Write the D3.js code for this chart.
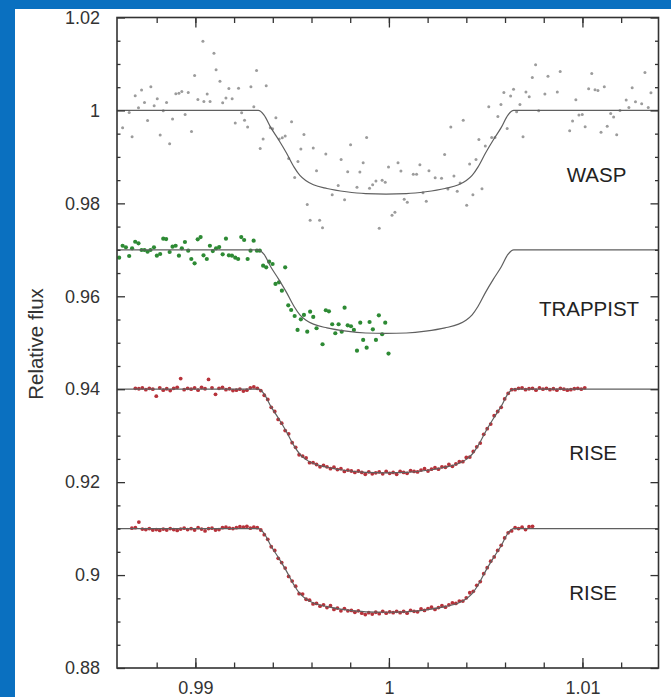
<!DOCTYPE html>
<html>
<head>
<meta charset="utf-8">
<script src="https://cdn.jsdelivr.net/npm/d3@7"></script>
<style>
  html, body { margin: 0; padding: 0; background: #0a70c0; }
  svg { display: block; }
</style>
</head>
<body>
<svg id="chart" width="671" height="697"></svg>
<script>
// ---- Data -------------------------------------------------------------
// Transit model: depth below the out-of-transit level, versus time
const modelTime  = [0.98595, 0.99325, 0.99355, 0.99390, 0.99430, 0.99470, 0.99510, 0.99540, 0.99570, 0.99610, 0.99680, 0.99780, 0.99880, 0.99985,
                    1.00090, 1.00190, 1.00290, 1.00360, 1.00400, 1.00430, 1.00460, 1.00500, 1.00540, 1.00580, 1.00615, 1.00645, 1.01393];
const modelDepth = [0, 0, 0.0010, 0.0037, 0.0063, 0.0091, 0.0122, 0.0140, 0.0151, 0.0160, 0.0168, 0.0175, 0.0179, 0.0180,
                    0.0179, 0.0175, 0.0168, 0.0160, 0.0151, 0.0140, 0.0122, 0.0091, 0.0063, 0.0037, 0.0010, 0, 0];

// Out-of-transit level of each light curve and its instrument name
const instruments = ["WASP", "TRAPPIST", "RISE", "RISE"];
const baselines   = [1.00, 0.97, 0.94, 0.91];
// Where each instrument name is centred (time, flux of the text baseline)
const labelTime   = [1.01073, 1.01034, 1.01055, 1.01055];
const labelFlux   = [0.98465, 0.95578, 0.92485, 0.89473];

// WASP photometry [time, relative flux]
const waspPoints = [
  [0.98624,0.99626],[0.98658,0.99957],[0.98673,0.99432],[0.98689,1.00314],[0.98706,1.00056],[0.98722,1.00437],[0.98737,1.00172],[0.98753,0.99785],
  [0.98770,1.00508],[0.98787,1.00099],[0.98803,1.00249],[0.98818,0.99469],[0.98834,0.99991],[0.98851,1.00172],[0.98867,0.99282],[0.98882,0.99813],
  [0.98899,1.00357],[0.98915,1.00372],[0.98930,1.00409],[0.98947,0.99914],[0.98963,1.00387],[0.98980,0.99548],[0.98996,1.00753],[0.99013,1.00237],
  [0.99039,1.01490],[0.99044,1.00194],[0.99061,1.00351],[0.99076,1.00194],[0.99096,1.01232],[0.99107,1.00873],[0.99127,1.00630],[0.99141,1.00163],
  [0.99158,1.00265],[0.99173,1.00473],[0.99190,1.00249],[0.99206,0.99727],[0.99223,1.00480],[0.99239,0.99948],[0.99254,0.99791],[0.99270,0.99641],
  [0.99287,1.00508],[0.99302,1.00077],[0.99316,1.00860],[0.99335,0.99183],[0.99350,0.99383],[0.99366,1.00529],[0.99387,0.99626],[0.99399,0.99604],
  [0.99416,0.99841],[0.99433,0.99383],[0.99449,0.99411],[0.99464,0.99447],[0.99482,0.98968],[0.99497,0.99755],[0.99513,0.98559],[0.99530,0.98903],
  [0.99545,0.99168],[0.99561,0.99484],[0.99578,0.97978],[0.99593,0.97634],[0.99609,0.99189],[0.99626,0.98701],[0.99642,0.97634],[0.99657,0.97475],
  [0.99674,0.99060],[0.99707,0.98185],[0.99738,0.98387],[0.99753,0.98946],[0.99771,0.98077],[0.99787,0.98680],[0.99802,0.99260],[0.99835,0.98344],
  [0.99850,0.98673],[0.99867,0.98873],[0.99885,0.99419],[0.99900,0.98323],[0.99916,0.98400],[0.99933,0.98480],[0.99950,0.97462],[0.99965,0.98495],
  [0.99981,0.98452],[0.99998,0.98781],[1.00016,0.97742],[1.00031,0.97806],[1.00047,0.98873],[1.00062,0.98695],[1.00079,0.98086],[1.00095,0.98022],
  [1.00126,0.98624],[1.00143,0.98624],[1.00160,0.98830],[1.00176,0.98228],[1.00193,0.98043],[1.00207,0.98701],[1.00239,0.98551],[1.00272,0.98538],
  [1.00288,0.99054],[1.00305,0.98308],[1.00320,0.99641],[1.00336,0.98587],[1.00353,0.98258],[1.00368,0.98437],[1.00384,0.99791],[1.00402,0.97957],
  [1.00417,0.98845],[1.00434,0.98185],[1.00450,0.98946],[1.00465,0.99376],[1.00481,0.98314],[1.00498,0.99232],[1.00516,1.00077],[1.00531,0.99419],
  [1.00548,0.99419],[1.00563,0.99871],[1.00579,1.00129],[1.00594,1.00387],[1.00611,0.99613],[1.00629,1.00308],[1.00644,1.00458],[1.00660,0.99970],
  [1.00677,1.00129],[1.00693,0.99432],[1.00708,1.00394],[1.00725,1.00292],[1.00741,1.00710],[1.00758,1.00981],[1.00774,0.99991],[1.00806,1.00351],
  [1.00822,1.00738],[1.00870,1.00394],[1.00885,1.00839],[1.00934,0.99561],[1.00949,0.99770],[1.00966,1.00228],[1.00982,0.99899],[1.00999,0.99914],
  [1.01014,0.99647],[1.01032,1.00465],[1.01048,1.00796],[1.01065,1.00443],[1.01080,1.00430],[1.01096,0.99533],[1.01113,1.00508],[1.01128,0.99662],
  [1.01146,0.99935],[1.01161,0.99856],[1.01177,0.99475],[1.01194,1.00000],[1.01226,1.00222],[1.01240,1.00065],[1.01257,1.00486],[1.01274,1.00185],
  [1.01306,1.00142],[1.01323,1.00817],[1.01340,1.00065],[1.01354,1.00378]
];

// TRAPPIST photometry [time, relative flux]
const trappistPoints = [
  [0.98606,0.96830],[0.98624,0.97088],[0.98641,0.97054],[0.98658,0.96867],[0.98673,0.97032],[0.98689,0.97174],[0.98706,0.97140],[0.98722,0.96996],
  [0.98737,0.96996],[0.98753,0.96959],[0.98768,0.96996],[0.98786,0.97054],[0.98801,0.96873],[0.98818,0.96910],[0.98834,0.97239],[0.98849,0.97232],
  [0.98867,0.96953],[0.98882,0.97067],[0.98898,0.97088],[0.98915,0.96873],[0.98930,0.97032],[0.98946,0.97168],[0.98963,0.96981],[0.98979,0.96802],
  [0.98996,0.96710],[0.99012,0.97226],[0.99027,0.97275],[0.99042,0.96882],[0.99059,0.96802],[0.99075,0.97088],[0.99090,0.96974],[0.99107,0.97032],
  [0.99123,0.97060],[0.99141,0.96903],[0.99158,0.97239],[0.99173,0.96882],[0.99189,0.96873],[0.99206,0.96830],[0.99221,0.96802],[0.99237,0.97275],
  [0.99252,0.97211],[0.99270,0.96802],[0.99285,0.96981],[0.99301,0.97196],[0.99318,0.96981],[0.99333,0.96981],[0.99350,0.96658],[0.99366,0.96624],
  [0.99381,0.96744],[0.99399,0.96695],[0.99414,0.96265],[0.99432,0.96301],[0.99447,0.96120],[0.99464,0.96624],[0.99480,0.95806],[0.99495,0.95705],
  [0.99513,0.95576],[0.99528,0.95275],[0.99545,0.95505],[0.99561,0.95598],[0.99578,0.95239],[0.99593,0.95669],[0.99609,0.95555],[0.99626,0.95312],
  [0.99657,0.94968],[0.99674,0.95699],[0.99690,0.95677],[0.99707,0.95398],[0.99723,0.95204],[0.99740,0.95398],[0.99756,0.95239],[0.99771,0.95755],
  [0.99787,0.95376],[0.99804,0.95355],[0.99819,0.95275],[0.99835,0.94830],[0.99852,0.95432],[0.99867,0.95060],[0.99885,0.94895],[0.99900,0.95447],
  [0.99917,0.95290],[0.99933,0.95060],[0.99948,0.95591],[0.99965,0.95183],[0.99981,0.95432],[0.99998,0.94766]
];

// First RISE light curve [time, relative flux]
const rise1Points = [
  [0.98690,0.94020],[0.98708,0.94010],[0.98726,0.94030],[0.98744,0.93990],[0.98762,0.94020],[0.98780,0.94000],[0.98798,0.93850],[0.98816,0.94030],
  [0.98834,0.93980],[0.98852,0.94010],[0.98870,0.93970],[0.98888,0.94020],[0.98906,0.94040],[0.98924,0.94230],[0.98942,0.93990],[0.98960,0.94020],
  [0.98978,0.94000],[0.98996,0.94030],[0.99014,0.93980],[0.99032,0.94040],[0.99050,0.94010],[0.99068,0.94210],[0.99086,0.94030],[0.99104,0.93890],
  [0.99122,0.94020],[0.99140,0.94040],[0.99158,0.93990],[0.99176,0.94010],[0.99194,0.93970],[0.99212,0.93980],[0.99230,0.94000],[0.99248,0.93960],
  [0.99266,0.93980],[0.99284,0.94030],[0.99302,0.94050],[0.99320,0.94020],[0.99338,0.93970],[0.99356,0.93870],[0.99374,0.93780],[0.99392,0.93610],
  [0.99410,0.93520],[0.99428,0.93350],[0.99446,0.93270],[0.99464,0.93110],[0.99482,0.93040],[0.99500,0.92850],[0.99518,0.92750],[0.99536,0.92590],
  [0.99554,0.92560],[0.99572,0.92520],[0.99590,0.92420],[0.99608,0.92420],[0.99626,0.92380],[0.99644,0.92330],[0.99662,0.92360],[0.99680,0.92330],
  [0.99698,0.92290],[0.99716,0.92320],[0.99734,0.92270],[0.99752,0.92290],[0.99770,0.92230],[0.99788,0.92260],[0.99806,0.92240],[0.99824,0.92210],
  [0.99842,0.92240],[0.99860,0.92210],[0.99878,0.92170],[0.99896,0.92220],[0.99914,0.92180],[0.99932,0.92200],[0.99950,0.92220],[0.99968,0.92180],
  [0.99986,0.92230],[1.00004,0.92190],[1.00022,0.92210],[1.00040,0.92170],[1.00058,0.92230],[1.00076,0.92210],[1.00094,0.92190],[1.00112,0.92250],
  [1.00130,0.92230],[1.00148,0.92220],[1.00166,0.92260],[1.00184,0.92290],[1.00202,0.92240],[1.00220,0.92280],[1.00238,0.92310],[1.00256,0.92280],
  [1.00274,0.92330],[1.00292,0.92320],[1.00310,0.92380],[1.00328,0.92340],[1.00346,0.92390],[1.00364,0.92440],[1.00382,0.92440],[1.00400,0.92530],
  [1.00418,0.92540],[1.00436,0.92660],[1.00454,0.92760],[1.00472,0.92840],[1.00490,0.93030],[1.00508,0.93150],[1.00526,0.93250],[1.00544,0.93430],
  [1.00562,0.93520],[1.00580,0.93610],[1.00598,0.93790],[1.00616,0.93910],[1.00634,0.93990],[1.00652,0.93990],[1.00670,0.94020],[1.00688,0.94030],
  [1.00706,0.93990],[1.00724,0.94010],[1.00742,0.94020],[1.00760,0.93980],[1.00778,0.94030],[1.00796,0.94000],[1.00814,0.94020],[1.00832,0.93990],
  [1.00850,0.94010],[1.00868,0.93980],[1.00886,0.94020],[1.00904,0.94000],[1.00922,0.93980],[1.00940,0.93990],[1.00958,0.94010],[1.00976,0.94020],
  [1.00994,0.94000],[1.01012,0.94030]
];

// Second RISE light curve [time, relative flux]
const rise2Points = [
  [0.98672,0.91010],[0.98690,0.91020],[0.98708,0.91140],[0.98726,0.90990],[0.98744,0.90980],[0.98762,0.91000],[0.98780,0.90970],[0.98798,0.90980],
  [0.98816,0.90960],[0.98834,0.90990],[0.98852,0.90970],[0.98870,0.91000],[0.98888,0.90980],[0.98906,0.90960],[0.98924,0.90990],[0.98942,0.91010],
  [0.98960,0.90980],[0.98978,0.91000],[0.98996,0.90970],[0.99014,0.91020],[0.99032,0.90990],[0.99050,0.90950],[0.99068,0.91000],[0.99086,0.91010],
  [0.99104,0.90970],[0.99122,0.90980],[0.99140,0.91020],[0.99158,0.91030],[0.99176,0.91010],[0.99194,0.91000],[0.99212,0.91020],[0.99230,0.91040],
  [0.99248,0.91030],[0.99266,0.91050],[0.99284,0.91010],[0.99302,0.91030],[0.99320,0.91020],[0.99338,0.90970],[0.99356,0.90870],[0.99374,0.90770],
  [0.99392,0.90610],[0.99410,0.90530],[0.99428,0.90360],[0.99446,0.90270],[0.99464,0.90150],[0.99482,0.89970],[0.99500,0.89870],[0.99518,0.89760],
  [0.99536,0.89600],[0.99554,0.89590],[0.99572,0.89480],[0.99590,0.89460],[0.99608,0.89380],[0.99626,0.89390],[0.99644,0.89330],[0.99662,0.89360],
  [0.99680,0.89300],[0.99698,0.89340],[0.99716,0.89260],[0.99734,0.89290],[0.99752,0.89230],[0.99770,0.89280],[0.99788,0.89230],[0.99806,0.89240],
  [0.99824,0.89200],[0.99842,0.89230],[0.99860,0.89180],[0.99878,0.89150],[0.99896,0.89190],[0.99914,0.89160],[0.99932,0.89200],[0.99950,0.89170],
  [0.99968,0.89220],[0.99986,0.89180],[1.00004,0.89210],[1.00022,0.89190],[1.00040,0.89220],[1.00058,0.89190],[1.00076,0.89220],[1.00094,0.89180],
  [1.00112,0.89240],[1.00130,0.89220],[1.00148,0.89210],[1.00166,0.89270],[1.00184,0.89240],[1.00202,0.89280],[1.00220,0.89310],[1.00238,0.89260],
  [1.00256,0.89300],[1.00274,0.89340],[1.00292,0.89310],[1.00310,0.89360],[1.00328,0.89400],[1.00346,0.89390],[1.00364,0.89440],[1.00382,0.89440],
  [1.00400,0.89510],[1.00418,0.89620],[1.00436,0.89650],[1.00454,0.89780],[1.00472,0.89860],[1.00490,0.90030],[1.00508,0.90160],[1.00526,0.90300],
  [1.00544,0.90390],[1.00562,0.90530],[1.00580,0.90640],[1.00598,0.90800],[1.00616,0.90910],[1.00634,0.90950],[1.00652,0.91020],[1.00670,0.91000],
  [1.00688,0.91030],[1.00706,0.90980],[1.00724,0.91040],[1.00742,0.91050]
];

// Axis ticks and their labels
const xMajorTicks  = [0.99, 1.00, 1.01];
const xTickLabels  = ["0.99", "1", "1.01"];
const xMinorTicks  = [0.988, 0.990, 0.992, 0.994, 0.996, 0.998, 1.000, 1.002, 1.004, 1.006, 1.008, 1.010, 1.012];
const yMajorTicks  = [0.88, 0.90, 0.92, 0.94, 0.96, 0.98, 1.00, 1.02];
const yTickLabels  = ["0.88", "0.9", "0.92", "0.94", "0.96", "0.98", "1", "1.02"];
const yMinorTicks  = [0.885, 0.89, 0.895, 0.905, 0.91, 0.915, 0.925, 0.93, 0.935, 0.945, 0.95, 0.955,
                      0.965, 0.97, 0.975, 0.985, 0.99, 0.995, 1.005, 1.01, 1.015];
const yAxisTitle   = "Relative flux";

// ---- Drawing ----------------------------------------------------------
const FONT = "'Liberation Sans', Arial, Helvetica, sans-serif";
const svg = d3.select("#chart");

// white sheet on the blue page
svg.append("rect").attr("x", 15).attr("y", 9).attr("width", 671 - 15).attr("height", 697 - 9).attr("fill", "#ffffff");

const plot = { left: 117, right: 658.5, top: 17.5, bottom: 668 };
const x = d3.scaleLinear().domain([0.98595, 1.01393]).range([plot.left, plot.right]);
const y = d3.scaleLinear().domain([0.88, 1.02]).range([plot.bottom, plot.top]);

const clipId = "plotclip";
svg.append("clipPath").attr("id", clipId).append("rect")
  .attr("x", plot.left).attr("y", plot.top)
  .attr("width", plot.right - plot.left).attr("height", plot.bottom - plot.top);

const layer = svg.append("g").attr("clip-path", `url(#${clipId})`);

// scatter series
const series = [
  { pts: waspPoints,     fill: "#9c9c9c", r: 1.5 },
  { pts: trappistPoints, fill: "#2d8a34", r: 2.1 },
  { pts: rise1Points,    fill: "#b7323a", r: 1.9 },
  { pts: rise2Points,    fill: "#b7323a", r: 1.9 }
];
series.forEach(s => {
  layer.append("g").selectAll("circle").data(s.pts).join("circle")
    .attr("cx", d => x(d[0])).attr("cy", d => y(d[1]))
    .attr("r", s.r).attr("fill", s.fill);
});

// transit model, shifted to each instrument's level
const modelLine = d3.line()
  .x(d => x(d.t)).y(d => y(d.f))
  .curve(d3.curveMonotoneX);
baselines.forEach(b => {
  const curve = modelTime.map((t, i) => ({ t, f: b - modelDepth[i] }));
  layer.append("path").attr("d", modelLine(curve))
    .attr("fill", "none").attr("stroke", "#5f5f5f").attr("stroke-width", 1.2);
});

// instrument names
instruments.forEach((name, i) => {
  svg.append("text")
    .attr("x", x(labelTime[i])).attr("y", y(labelFlux[i]))
    .attr("text-anchor", "middle")
    .attr("font-family", FONT).attr("font-size", 20.5).attr("fill", "#222")
    .text(name);
});

// axes: inward ticks on all four sides
const axisColor = "#333";
function tickRow(axisFn, values, len, transform) {
  const g = svg.append("g").attr("transform", transform)
    .call(axisFn.tickValues(values).tickSizeInner(-len).tickSizeOuter(0).tickFormat(""));
  g.select(".domain").remove();
  g.selectAll("line").attr("stroke", axisColor).attr("stroke-width", 1.3);
  return g;
}
tickRow(d3.axisBottom(x), xMinorTicks, 5.5, `translate(0,${plot.bottom})`);
tickRow(d3.axisBottom(x), xMajorTicks, 10,  `translate(0,${plot.bottom})`);
tickRow(d3.axisTop(x),    xMinorTicks, 5.5, `translate(0,${plot.top})`);
tickRow(d3.axisTop(x),    xMajorTicks, 10,  `translate(0,${plot.top})`);
tickRow(d3.axisLeft(y),   yMinorTicks, 3.5, `translate(${plot.left},0)`);
tickRow(d3.axisLeft(y),   yMajorTicks, 8,   `translate(${plot.left},0)`);
tickRow(d3.axisRight(y),  yMinorTicks, 3.5, `translate(${plot.right},0)`);
tickRow(d3.axisRight(y),  yMajorTicks, 8,   `translate(${plot.right},0)`);

// frame
svg.append("rect")
  .attr("x", plot.left).attr("y", plot.top)
  .attr("width", plot.right - plot.left).attr("height", plot.bottom - plot.top)
  .attr("fill", "none").attr("stroke", axisColor).attr("stroke-width", 1.6);

// tick labels
const xLab = svg.append("g").attr("transform", `translate(0,${plot.bottom})`)
  .call(d3.axisBottom(x).tickValues(xMajorTicks).tickSize(0).tickPadding(13)
    .tickFormat((d, i) => xTickLabels[i]));
xLab.select(".domain").remove();
xLab.selectAll("text").attr("font-family", FONT).attr("font-size", 18).attr("fill", "#333");

const yLab = svg.append("g").attr("transform", `translate(${plot.left},0)`)
  .call(d3.axisLeft(y).tickValues(yMajorTicks).tickSize(0).tickPadding(17)
    .tickFormat((d, i) => yTickLabels[i]));
yLab.select(".domain").remove();
yLab.selectAll("text").attr("font-family", FONT).attr("font-size", 18).attr("fill", "#333");

// y-axis title
svg.append("text")
  .attr("transform", "translate(43,344) rotate(-90)")
  .attr("text-anchor", "middle")
  .attr("font-family", FONT).attr("font-size", 20.5).attr("fill", "#333")
  .text(yAxisTitle);
</script>
</body>
</html>
